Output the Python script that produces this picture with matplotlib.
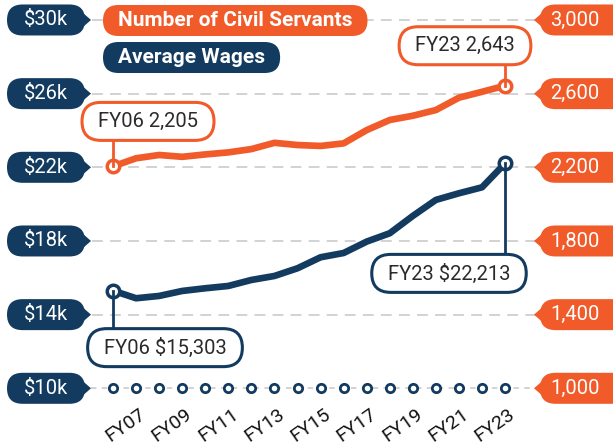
import matplotlib
matplotlib.use("Agg")
import matplotlib.pyplot as plt
import matplotlib.transforms as mtransforms
from matplotlib.patches import FancyBboxPatch, Polygon

plt.rcParams['font.family'] = ['Roboto', 'DejaVu Sans']

# data
years = ['FY06', 'FY07', 'FY08', 'FY09', 'FY10', 'FY11', 'FY12', 'FY13', 'FY14',
         'FY15', 'FY16', 'FY17', 'FY18', 'FY19', 'FY20', 'FY21', 'FY22', 'FY23']
civil_servants = [2205, 2249, 2267, 2257, 2270, 2281, 2299, 2333, 2321,
                  2316, 2330, 2402, 2457, 2480, 2511, 2578, 2610, 2643]
avg_wages = [15303, 14890, 15015, 15286, 15432, 15557, 15883, 16100, 16518,
             17115, 17347, 17966, 18420, 19360, 20230, 20590, 20914, 22213]
wage_ticks = [10000, 14000, 18000, 22000, 26000, 30000]
wage_tick_labels = ['$10k', '$14k', '$18k', '$22k', '$26k', '$30k']
staff_ticks = [1000, 1400, 1800, 2200, 2600, 3000]
staff_tick_labels = ['1,000', '1,400', '1,800', '2,200', '2,600', '3,000']
shown_years = ['FY07', 'FY09', 'FY11', 'FY13', 'FY15', 'FY17', 'FY19', 'FY21', 'FY23']
legend_labels = ['Number of Civil Servants', 'Average Wages']

ORANGE = '#F15A29'
NAVY = '#133B5F'
GRID = '#cfcfcf'
TXT = '#2b2b2b'
W, H = 613, 446

fig = plt.figure(figsize=(W / 100, H / 100), dpi=100)
ax = fig.add_axes([0, 0, 1, 1])
ax2 = ax.twinx()
for a in (ax, ax2):
    a.set_axis_off()

x = list(range(len(years)))
ax.set_xlim(-4.9, 21.68)
ax.set_ylim(6867, 31085)
ax2.set_ylim(686.7, 3108.5)

# gridlines
for v in wage_ticks[1:]:
    ax.plot([0.150, 0.876], [v, v], transform=ax.get_yaxis_transform(),
            color=GRID, lw=1.3, dashes=(6, 4), zorder=1)
ax.plot([0.148, 0.876], [wage_ticks[0]] * 2, transform=ax.get_yaxis_transform(),
        color=GRID, lw=1.3, dashes=(3, 3), zorder=1)
ax.plot(x, [wage_ticks[0]] * len(x), ls='none', marker='o', ms=6, mfc='white',
        mec=NAVY, mew=2, zorder=3)

# series
ax.plot(x, avg_wages, color=NAVY, lw=4.8, solid_joinstyle='round',
        solid_capstyle='round', zorder=4)
ax2.plot(x, civil_servants, color=ORANGE, lw=4.8, solid_joinstyle='round',
         solid_capstyle='round', zorder=4)
ax.plot([x[0], x[-1]], [avg_wages[0], avg_wages[-1]], ls='none', marker='o',
        ms=9, mfc='white', mec=NAVY, mew=2.5, zorder=5)
ax2.plot([x[0], x[-1]], [civil_servants[0], civil_servants[-1]], ls='none',
         marker='o', ms=9, mfc='white', mec=ORANGE, mew=2.5, zorder=5)

# x tick labels
for lab in shown_years:
    ax.annotate(lab, (years.index(lab), wage_ticks[0]), xytext=(3, -17),
                textcoords='offset pixels', rotation=35, rotation_mode='anchor',
                ha='right', va='top', fontsize=14, color='#111111')

ident = mtransforms.IdentityTransform()
fig.canvas.draw()
renderer = fig.canvas.get_renderer()


def pill(x0, cy, text, fc, ec, tc, size, weight='normal', hpad=15, h=31,
         lw=0, cx=None, width=None, text_x=None):
    t = fig.text(0, cy, text, transform=ident, color=tc, fontsize=size,
                 fontweight=weight, ha='center', va='center', zorder=6)
    tw = t.get_window_extent(renderer).width
    w = width if width is not None else tw + 2 * hpad
    if cx is None:
        cx = x0 + w / 2
    t.set_x(cx if text_x is None else text_x)
    box = FancyBboxPatch((cx - w / 2, cy - h / 2), w, h,
                         boxstyle=f"round,pad=0,rounding_size={h / 2}",
                         transform=ident, fc=fc, ec=ec, lw=lw, zorder=5)
    fig.add_artist(box)


# axis label boxes
for v, lab in zip(wage_ticks, wage_tick_labels):
    cy = ax.transData.transform((0, v))[1]
    pill(7, cy, lab, NAVY, NAVY, 'white', 14.5, width=78, h=31)
    fig.add_artist(Polygon([(83, cy + 7), (91, cy), (83, cy - 7)], closed=True,
                           transform=ident, fc=NAVY, ec='none', zorder=5))
for v, lab in zip(staff_ticks, staff_tick_labels):
    cy = ax2.transData.transform((0, v))[1]
    pill(540, cy, lab, ORANGE, ORANGE, 'white', 14.5, width=90, h=31, cx=585,
         text_x=575)
    fig.add_artist(Polygon([(542, cy + 7), (534, cy), (542, cy - 7)], closed=True,
                           transform=ident, fc=ORANGE, ec='none', zorder=5))

# legend
pill(103, H - 20.5, legend_labels[0], ORANGE, ORANGE, 'white', 15, weight='bold', h=31)
pill(103, H - 57.5, legend_labels[1], NAVY, NAVY, 'white', 15, weight='bold', h=31)


# value callouts
def callout(axis, xi, v, text, color, dy, box_cx):
    px, py = axis.transData.transform((xi, v))
    cy = py + dy
    h = 38
    pill(0, cy, text, 'white', color, TXT, 14.5, h=h, lw=2.2, hpad=16, cx=box_cx)
    edge = cy - h / 2 if dy > 0 else cy + h / 2
    fig.add_artist(plt.Line2D([px, px], [py, edge], transform=ident, color=color,
                              lw=2, zorder=4))


callout(ax2, x[0], civil_servants[0], f"{years[0]} {civil_servants[0]:,}", ORANGE, 45, 148)
callout(ax2, x[-1], civil_servants[-1], f"{years[-1]} {civil_servants[-1]:,}", ORANGE, 40, 465)
callout(ax, x[0], avg_wages[0], f"{years[0]} ${avg_wages[0]:,}", NAVY, -57, 165)
callout(ax, x[-1], avg_wages[-1], f"{years[-1]} ${avg_wages[-1]:,}", NAVY, -110, 449)

fig.savefig('out.png', dpi=100)
